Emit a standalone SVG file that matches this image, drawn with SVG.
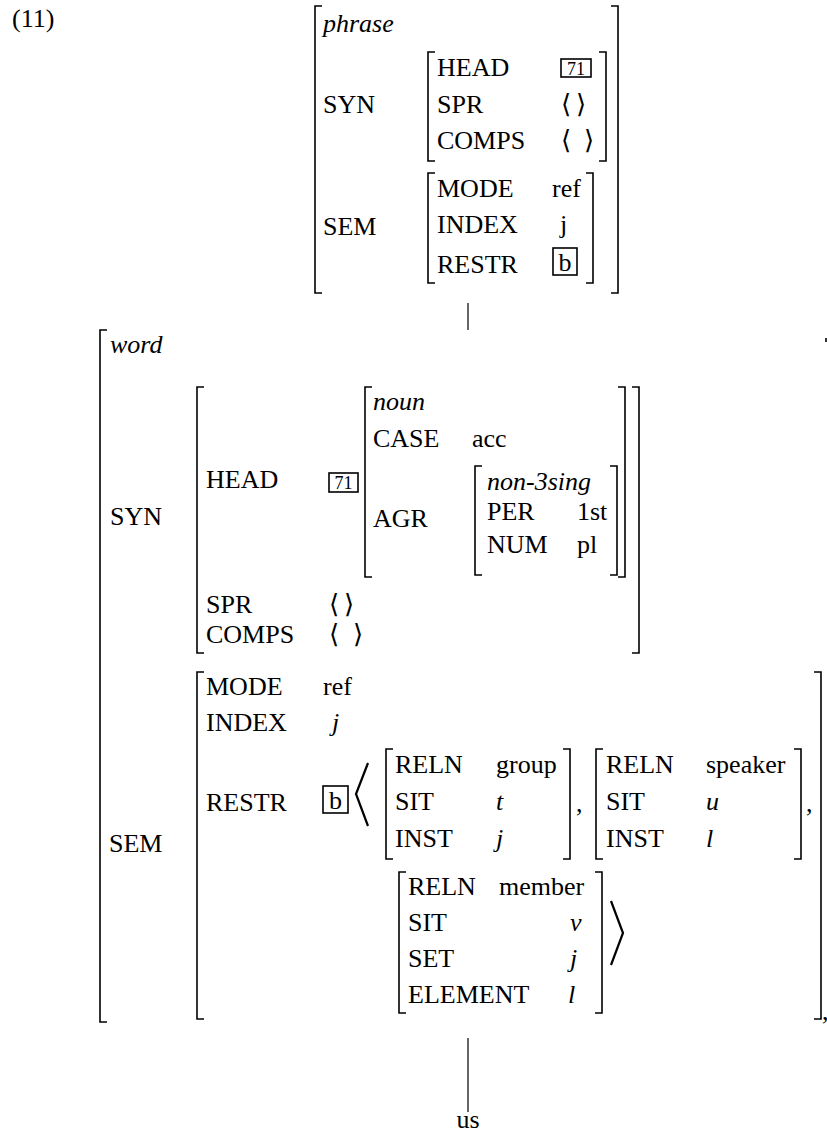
<svg xmlns="http://www.w3.org/2000/svg" width="827" height="1134" viewBox="0 0 827 1134">
<style>
text{font-family:"Liberation Serif","DejaVu Serif",serif;font-size:26px;fill:#000}
.it{font-style:italic}
.tag{font-size:18px;text-anchor:middle}
.ang{font-family:"DejaVu Serif","Liberation Serif",serif;font-size:26px}
.br{fill:none;stroke:#000;stroke-width:1.6}
.box{fill:none;stroke:#000;stroke-width:1.6}
.big{fill:none;stroke:#000;stroke-width:2.2;stroke-linejoin:miter}
.edge{stroke:#000;stroke-width:1.2}
</style>
<rect width="827" height="1134" fill="#fff"/>
<text x="12" y="27">(11)</text>

<g id="phrase">
  <path class="br" d="M322,6H315V293H322"/>
  <path class="br" d="M611,6H618V293H611"/>
  <text class="it" x="323" y="32">phrase</text>
  <text x="323" y="113">SYN</text>
  <path class="br" d="M435,52H428V161H435"/>
  <path class="br" d="M599,52H606V161H599"/>
  <text x="437" y="76">HEAD</text>
  <rect class="box" x="561" y="59" width="30" height="18"/>
  <text class="tag" x="576" y="74.5">71</text>
  <text x="437" y="113">SPR</text>
  <text class="ang" x="561" y="113">⟨</text>
  <text class="ang" x="576" y="113">⟩</text>
  <text x="437" y="149">COMPS</text>
  <text class="ang" x="561" y="149">⟨</text>
  <text class="ang" x="584" y="149">⟩</text>
  <text x="323" y="235">SEM</text>
  <path class="br" d="M435,173H428V283H435"/>
  <path class="br" d="M586,173H593V283H586"/>
  <text x="437" y="197">MODE</text>
  <text x="552" y="197">ref</text>
  <text x="437" y="233">INDEX</text>
  <text x="560" y="233">j</text>
  <text x="437" y="273">RESTR</text>
  <rect class="box" x="553" y="248" width="24" height="27"/>
  <text x="565" y="271" text-anchor="middle">b</text>
</g>

<g id="word">
  <path class="br" d="M107,330H100V1022H107"/>
  <path class="br" d="M826,338V342"/>
  <text class="it" x="110" y="353">word</text>
  <text x="110" y="525">SYN</text>
  <path class="br" d="M204,387H197V653H204"/>
  <path class="br" d="M632,387H639V653H632"/>
  <text x="206" y="488">HEAD</text>
  <rect class="box" x="329" y="473" width="29" height="19"/>
  <text class="tag" x="343.5" y="489">71</text>
  <path class="br" d="M372,387H365V577H372"/>
  <path class="br" d="M618,387H625V577H618"/>
  <text class="it" x="373" y="410">noun</text>
  <text x="373" y="447">CASE</text>
  <text x="472" y="447">acc</text>
  <text x="373" y="527">AGR</text>
  <path class="br" d="M482,466H475V575H482"/>
  <path class="br" d="M610,466H617V575H610"/>
  <text class="it" x="487" y="490">non-3sing</text>
  <text x="487" y="520">PER</text>
  <text x="577" y="520">1st</text>
  <text x="487" y="553">NUM</text>
  <text x="577" y="553">pl</text>
  <text x="206" y="613">SPR</text>
  <text class="ang" x="329" y="613">⟨</text>
  <text class="ang" x="344" y="613">⟩</text>
  <text x="206" y="643">COMPS</text>
  <text class="ang" x="329" y="643">⟨</text>
  <text class="ang" x="353" y="643">⟩</text>

  <text x="109" y="852">SEM</text>
  <path class="br" d="M204,672H197V1019H204"/>
  <path class="br" d="M814,672H821V1019H814"/>
  <text x="206" y="695">MODE</text>
  <text x="323" y="695">ref</text>
  <text x="206" y="731">INDEX</text>
  <text class="it" x="332" y="731">j</text>
  <text x="206" y="811">RESTR</text>
  <rect class="box" x="323" y="786" width="25" height="27"/>
  <text x="335.5" y="809" text-anchor="middle">b</text>
  <polyline class="big" points="368,763 356,794 368,826"/>

  <path class="br" d="M393,749H386V859H393"/>
  <path class="br" d="M563,749H570V859H563"/>
  <text x="395" y="773">RELN</text>
  <text x="496" y="773">group</text>
  <text x="395" y="810">SIT</text>
  <text class="it" x="496" y="810">t</text>
  <text x="395" y="847">INST</text>
  <text class="it" x="496" y="847">j</text>
  <text x="576" y="812">,</text>

  <path class="br" d="M603,749H596V859H603"/>
  <path class="br" d="M794,749H801V859H794"/>
  <text x="606" y="773">RELN</text>
  <text x="706" y="773">speaker</text>
  <text x="606" y="810">SIT</text>
  <text class="it" x="706" y="810">u</text>
  <text x="606" y="847">INST</text>
  <text class="it" x="706" y="847">l</text>
  <text x="806" y="812">,</text>

  <path class="br" d="M406,872H399V1013H406"/>
  <path class="br" d="M595,872H602V1013H595"/>
  <text x="408" y="895">RELN</text>
  <text x="499" y="895">member</text>
  <text x="408" y="931">SIT</text>
  <text class="it" x="570" y="931">v</text>
  <text x="408" y="967">SET</text>
  <text class="it" x="570" y="967">j</text>
  <text x="408" y="1003">ELEMENT</text>
  <text class="it" x="568" y="1003">l</text>
  <polyline class="big" points="611,901 623,933 611,965"/>
  <text x="822" y="1020">,</text>
</g>

<g id="us">
  <text x="468" y="1128" text-anchor="middle">us</text>
</g>

<g id="connectors">
  <line class="edge" x1="468" y1="303" x2="468" y2="330"/>
  <line class="edge" x1="468" y1="1038" x2="468" y2="1112"/>
</g>
</svg>
